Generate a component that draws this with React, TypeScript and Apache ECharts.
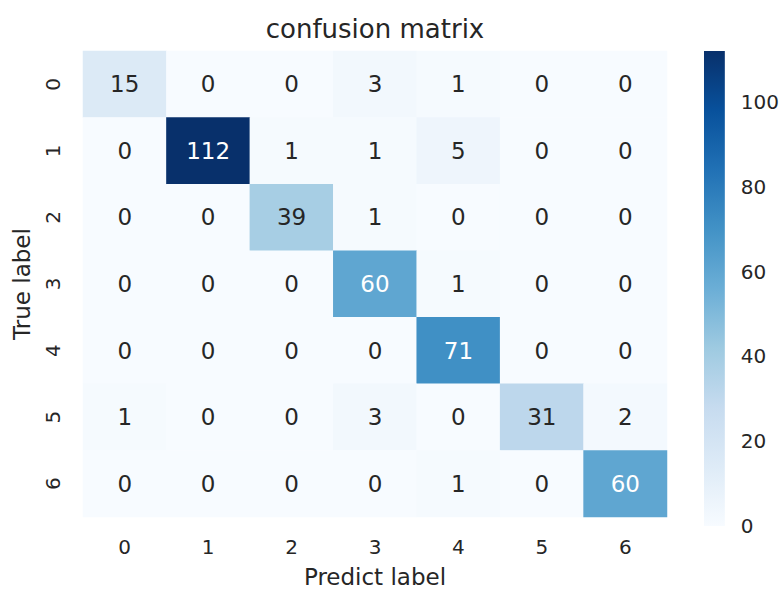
import React, { useEffect, useRef } from "react";
import * as echarts from "echarts";

const predictLabels = ["0", "1", "2", "3", "4", "5", "6"];
const trueLabels = ["0", "1", "2", "3", "4", "5", "6"];
const matrix: number[][] = [
  [15, 0, 0, 3, 1, 0, 0],
  [0, 112, 1, 1, 5, 0, 0],
  [0, 0, 39, 1, 0, 0, 0],
  [0, 0, 0, 60, 1, 0, 0],
  [0, 0, 0, 0, 71, 0, 0],
  [1, 0, 0, 3, 0, 31, 2],
  [0, 0, 0, 0, 1, 0, 60],
];
const colorbarTicks = [0, 20, 40, 60, 80, 100];
const blues = ["#f7fbff", "#deebf7", "#c6dbef", "#9ecae1", "#6baed6", "#4292c6", "#2171b5", "#08519c", "#08306b"];

const FONT = "DejaVu Sans";
const TXT = "#262626";

export default function App() {
  const ref = useRef<HTMLDivElement>(null);
  useEffect(() => {
    if (!ref.current) return;
    const chart = echarts.init(ref.current, undefined, { renderer: "svg" });
    const vmax = Math.max(...matrix.flat());
    const data: any[] = [];
    matrix.forEach((row, r) =>
      row.forEach((v, c) => {
        data.push({
          value: [c, r, v],
          label: { color: v / vmax > 0.45 ? "#ffffff" : TXT },
        });
      })
    );
    const stops = blues.map((col, i) => ({ offset: i / (blues.length - 1), color: col }));
    chart.setOption({
      animation: false,
      backgroundColor: "#ffffff",
      textStyle: { fontFamily: FONT },
      title: {
        text: "confusion matrix",
        left: 375,
        top: 16,
        padding: 0,
        textAlign: "center",
        textStyle: { fontFamily: FONT, fontSize: 26, fontWeight: "normal", color: TXT },
      },
      grid: [
        { left: 83, top: 51, width: 584, height: 475 },
        { left: 704, top: 51, width: 24, height: 475 },
      ],
      xAxis: [
        {
          type: "category",
          gridIndex: 0,
          data: predictLabels,
          position: "bottom",
          name: "Predict label",
          nameLocation: "middle",
          nameGap: 48,
          nameTextStyle: { fontFamily: FONT, fontSize: 23, color: TXT },
          axisLine: { show: false },
          axisTick: { show: false },
          splitLine: { show: false },
          axisLabel: { fontFamily: FONT, fontSize: 20, color: TXT, margin: 20 },
        },
        {
          type: "category",
          gridIndex: 1,
          data: [""],
          show: false,
        },
      ],
      yAxis: [
        {
          type: "category",
          gridIndex: 0,
          data: trueLabels,
          inverse: true,
          name: "True label",
          nameLocation: "middle",
          nameGap: 50,
          nameTextStyle: { fontFamily: FONT, fontSize: 23, color: TXT },
          axisLine: { show: false },
          axisTick: { show: false },
          splitLine: { show: false },
          axisLabel: { fontFamily: FONT, fontSize: 20, color: TXT, rotate: 90, margin: 20 },
        },
        {
          type: "value",
          gridIndex: 1,
          min: 0,
          max: vmax,
          interval: 20,
          position: "right",
          axisLine: { show: false },
          axisTick: { show: false },
          splitLine: { show: false },
          axisLabel: {
            fontFamily: FONT,
            fontSize: 20,
            color: TXT,
            margin: 16,
            showMaxLabel: false,
            formatter: (v: number) => (colorbarTicks.includes(v) ? String(v) : ""),
          },
        },
      ],
      visualMap: {
        type: "continuous",
        show: false,
        min: 0,
        max: vmax,
        dimension: 2,
        seriesIndex: 0,
        inRange: { color: blues },
      },
      series: [
        {
          type: "heatmap",
          xAxisIndex: 0,
          yAxisIndex: 0,
          data,
          label: {
            show: true,
            fontFamily: FONT,
            fontSize: 23,
            formatter: (p: any) => String(p.value[2]),
          },
          itemStyle: { borderWidth: 0 },
          emphasis: { disabled: true },
        },
        {
          type: "bar",
          xAxisIndex: 1,
          yAxisIndex: 1,
          data: [vmax],
          barWidth: "100%",
          itemStyle: {
            color: new echarts.graphic.LinearGradient(0, 1, 0, 0, stops),
          },
          silent: true,
        },
      ],
    });
    return () => chart.dispose();
  }, []);
  return (
    <div
      ref={ref}
      style={{ position: "absolute", left: 0, top: 0, width: 782, height: 593 }}
    />
  );
}
